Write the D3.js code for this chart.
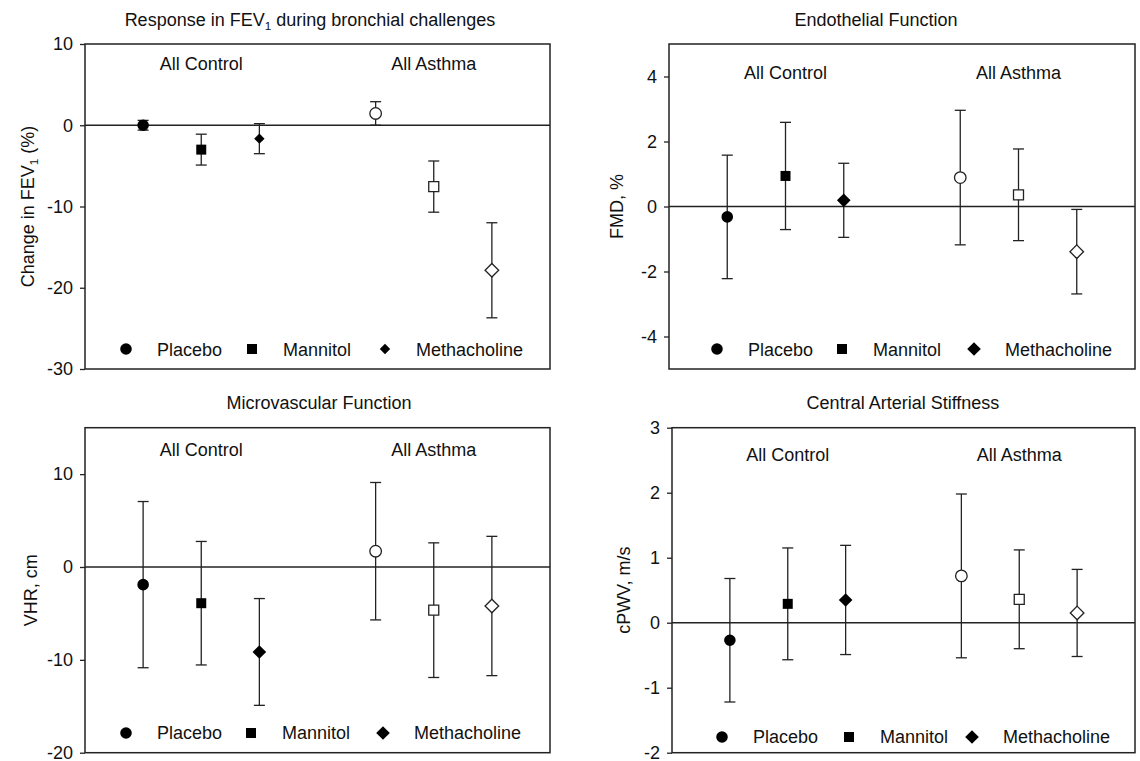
<!DOCTYPE html>
<html>
<head>
<meta charset="utf-8">
<script src="https://cdn.jsdelivr.net/npm/d3@7"></script>
<style>
  body { margin: 0; background: #fff; }
  text { font-family: "Liberation Sans", Arial, sans-serif; fill: #111; }
</style>
</head>
<body>
<svg id="chart" width="1140" height="761"></svg>
<script>
// groups and treatments
const groups = ["All Control", "All Asthma"];
const treatments = ["Placebo", "Mannitol", "Methacholine"];

// means and error bar half-widths, order: control P/M/Me, asthma P/M/Me
const fev1Mean = [0, -3.0, -1.65, 1.45, -7.55, -17.85];
const fev1Err  = [0.6, 1.9, 1.85, 1.45, 3.15, 5.85];
const fmdMean  = [-0.32, 0.94, 0.19, 0.89, 0.36, -1.39];
const fmdErr   = [1.9, 1.65, 1.14, 2.07, 1.41, 1.3];
const vhrMean  = [-1.9, -3.9, -9.15, 1.7, -4.65, -4.2];
const vhrErr   = [8.95, 6.65, 5.75, 7.4, 7.25, 7.5];
const cpwvMean = [-0.27, 0.29, 0.35, 0.72, 0.36, 0.15];
const cpwvErr  = [0.95, 0.86, 0.84, 1.26, 0.76, 0.67];

// y tick labels
const fev1Ticks = [-30, -20, -10, 0, 10];
const fmdTicks  = [-4, -2, 0, 2, 4];
const vhrTicks  = [-20, -10, 0, 10];
const cpwvTicks = [-2, -1, 0, 1, 2, 3];

const ink = "#222";
const fs = 18;
const svg = d3.select("#chart");

const panels = [
  { title: ["Response in FEV", "1", " during bronchial challenges"], titleX: 310, titleY: 26,
    ylab: ["Change in FEV", "1", " (%)"], ylabX: 34,
    box: [85, 44, 550, 369], ydom: [-30, 10], ticks: fev1Ticks,
    mean: fev1Mean, err: fev1Err, groupY: 70, legY: 349, legX: [41, 167, 300], smallDiamond: true },
  { title: ["Endothelial Function"], titleX: 876, titleY: 26,
    ylab: ["FMD, %"], ylabX: 623,
    box: [669, 44, 1135, 369], ydom: [-5, 5], ticks: fmdTicks,
    mean: fmdMean, err: fmdErr, groupY: 78.5, legY: 349, legX: [48, 173, 305] },
  { title: ["Microvascular Function"], titleX: 319, titleY: 409,
    ylab: ["VHR, cm"], ylabX: 37,
    box: [85, 427.7, 550, 752.7], ydom: [-20, 15], ticks: vhrTicks,
    mean: vhrMean, err: vhrErr, groupY: 456.5, legY: 733, legX: [41, 166, 298] },
  { title: ["Central Arterial Stiffness"], titleX: 903, titleY: 409,
    ylab: ["cPWV, m/s"], ylabX: 630,
    box: [672, 427.7, 1135, 752.7], ydom: [-2, 3], ticks: cpwvTicks,
    mean: cpwvMean, err: cpwvErr, groupY: 461.5, legY: 737, legX: [50, 177, 300] }
];

function symbolPath(t, small) {
  if (t === 0) return d3.symbol(d3.symbolCircle, 105)();
  if (t === 1) return d3.symbol(d3.symbolSquare, 100)();
  const h = small ? 5.2 : 6.8;
  return `M0,${-h}L${h},0L0,${h}L${-h},0Z`;
}

function addRich(sel, parts, size) {
  parts.forEach((p, i) => {
    const ts = sel.append("tspan").text(p);
    if (i === 1) ts.attr("font-size", size * 0.65).attr("dy", 4);
    if (i === 2) ts.attr("dy", -4);
  });
}

panels.forEach(p => {
  const [x0, y0, x1, y1] = p.box;
  const w = x1 - x0, h = y1 - y0;
  const x = d3.scaleLinear().domain([0, 8]).range([0, w]);
  const y = d3.scaleLinear().domain(p.ydom).range([h, 0]);
  const g = svg.append("g").attr("transform", `translate(${x0},${y0})`);

  // title
  const t = svg.append("text").attr("x", p.titleX).attr("y", p.titleY)
    .attr("text-anchor", "middle").attr("font-size", fs);
  addRich(t, p.title, fs);

  // y label
  const yl = svg.append("text")
    .attr("transform", `translate(${p.ylabX},${y0 + h / 2}) rotate(-90)`)
    .attr("text-anchor", "middle").attr("font-size", fs);
  addRich(yl, p.ylab, fs);

  // axis
  const ax = g.append("g").call(d3.axisLeft(y).tickValues(p.ticks)
    .tickSize(5).tickSizeOuter(0).tickPadding(7).tickFormat(d => String(d)));
  ax.select(".domain").remove();
  ax.selectAll("line").attr("stroke", ink).attr("stroke-width", 1.3);
  ax.selectAll("text").attr("font-size", fs).attr("fill", "#111")
    .style("font-family", '"Liberation Sans", Arial, sans-serif');

  // frame and zero line
  g.append("rect").attr("width", w).attr("height", h)
    .attr("fill", "none").attr("stroke", ink).attr("stroke-width", 1.5);
  g.append("line").attr("x1", 0).attr("x2", w).attr("y1", y(0)).attr("y2", y(0))
    .attr("stroke", ink).attr("stroke-width", 1.5);

  // group labels
  groups.forEach((name, gi) => {
    g.append("text").attr("x", x(gi * 4 + 2)).attr("y", p.groupY - y0)
      .attr("text-anchor", "middle").attr("font-size", fs).text(name);
  });

  const pts = p.mean.map((m, i) => ({
    g: Math.floor(i / 3), t: i % 3, m: m, e: p.err[i]
  }));
  const px = d => x(d.g * 4 + d.t + 1);

  // error bars
  const eb = g.selectAll(".eb").data(pts).join("g")
    .attr("stroke", ink).attr("stroke-width", 1.3);
  eb.append("line").attr("x1", px).attr("x2", px)
    .attr("y1", d => y(d.m + d.e)).attr("y2", d => y(d.m - d.e));
  eb.append("line").attr("x1", d => px(d) - 5.5).attr("x2", d => px(d) + 5.5)
    .attr("y1", d => y(d.m + d.e)).attr("y2", d => y(d.m + d.e));
  eb.append("line").attr("x1", d => px(d) - 5.5).attr("x2", d => px(d) + 5.5)
    .attr("y1", d => y(d.m - d.e)).attr("y2", d => y(d.m - d.e));

  // markers
  g.selectAll(".mk").data(pts).join("path")
    .attr("transform", d => `translate(${px(d)},${y(d.m)})`)
    .attr("d", d => symbolPath(d.t, p.smallDiamond && d.g === 0))
    .attr("fill", d => d.g === 0 ? "#000" : "#fff")
    .attr("stroke", d => d.g === 0 ? "none" : ink)
    .attr("stroke-width", 1.3);

  // legend
  treatments.forEach((name, ti) => {
    const lx = p.legX[ti];
    g.append("path").attr("transform", `translate(${lx},${p.legY - y0})`)
      .attr("d", symbolPath(ti, p.smallDiamond)).attr("fill", "#000");
    g.append("text").attr("x", lx + 31).attr("y", p.legY - y0 + 6.5)
      .attr("font-size", fs).text(name);
  });
});
</script>
</body>
</html>
